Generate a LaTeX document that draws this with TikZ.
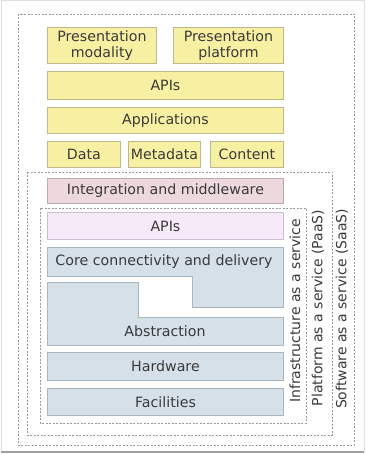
\documentclass[tikz,border=0pt]{standalone}
\usepackage{fontspec}
\setmainfont{DejaVu Sans}
\definecolor{yfill}{HTML}{F7F0A2}
\definecolor{yline}{HTML}{BDB88E}
\definecolor{pfill}{HTML}{EDD9DD}
\definecolor{pline}{HTML}{BFA9AE}
\definecolor{lfill}{HTML}{F7EAF8}
\definecolor{lline}{HTML}{CDBDD2}
\definecolor{bfill}{HTML}{D5E0E8}
\definecolor{bline}{HTML}{A8B6C0}
\definecolor{txt}{HTML}{3A3A3A}
\definecolor{dline}{HTML}{9A9A9A}
\tikzset{
  layer/.style={draw, line width=0.9pt, inner sep=0pt, anchor=north west, text=txt,
    font=\fontsize{14.2}{15.5}\selectfont, align=center},
  ybox/.style={layer, fill=yfill, draw=yline},
  pbox/.style={layer, fill=pfill, draw=pline},
  lbox/.style={layer, fill=lfill, draw=lline},
  bbox/.style={layer, fill=bfill, draw=bline},
  bshape/.style={fill=bfill, draw=bline, line width=0.9pt},
  dbox/.style={draw=dline, line width=0.7pt, dash pattern=on 2pt off 1.5pt},
  vlabel/.style={rotate=90, text=txt, font=\fontsize{14}{15}\selectfont},
  ltext/.style={text=txt, font=\fontsize{14.2}{15.5}\selectfont}
}
\begin{document}
\begin{tikzpicture}[x=1pt,y=-1pt]
\useasboundingbox (0,0) rectangle (365,454);
\fill[white] (0,0) rectangle (365,454);
% photo frame
\draw[gray!25, line width=1pt] (1,1) rectangle (364,451);
\draw[gray!75, line width=1.5pt] (1,452) -- (364,452);
% dashed service boundaries
\draw[dbox] (18,14) rectangle (354,445);
\draw[dbox] (27,172) rectangle (332,435);
\draw[dbox] (40,208) rectangle (306,423);
% SaaS top layers
\node[ybox, minimum width=109pt, minimum height=36pt] (pmod) at (47,27) {Presentation\\modality};
\node[ybox, minimum width=110pt, minimum height=36pt] (pplat) at (173,27) {Presentation\\platform};
\node[ybox, minimum width=236pt, minimum height=28pt] (apis1) at (47,71) {APIs};
\node[ybox, minimum width=236pt, minimum height=26pt] (apps) at (47,107) {Applications};
\node[ybox, minimum width=73pt, minimum height=26pt] (data) at (47,141) {Data};
\node[ybox, minimum width=72pt, minimum height=26pt] (meta) at (128,141) {Metadata};
\node[ybox, minimum width=73pt, minimum height=26pt] (cont) at (210,141) {Content};
% PaaS
\node[pbox, minimum width=236pt, minimum height=25pt] (integ) at (47,178) {Integration and middleware};
% IaaS
\node[lbox, minimum width=236pt, minimum height=27pt] (apis2) at (47,212) {APIs};
\draw[bshape] (47,247) -- (283,247) -- (283,307) -- (192,307) -- (192,276) -- (47,276) -- cycle;
\node[ltext] (core) at (164,262) {Core connectivity and delivery};
\draw[bshape] (47,282) -- (138,282) -- (138,317) -- (283,317) -- (283,345) -- (47,345) -- cycle;
\node[ltext] (abst) at (165,331) {Abstraction};
\node[bbox, minimum width=236pt, minimum height=28pt] (hw) at (47,352) {Hardware};
\node[bbox, minimum width=236pt, minimum height=27pt] (fac) at (47,388) {Facilities};
% vertical labels
\node[vlabel] (iaas) at (295,311) {Infrastructure as a service};
\node[vlabel] (paas) at (318,308) {Platform as a service (PaaS)};
\node[vlabel] (saas) at (342,309) {Software as a service (SaaS)};
\end{tikzpicture}
\end{document}
